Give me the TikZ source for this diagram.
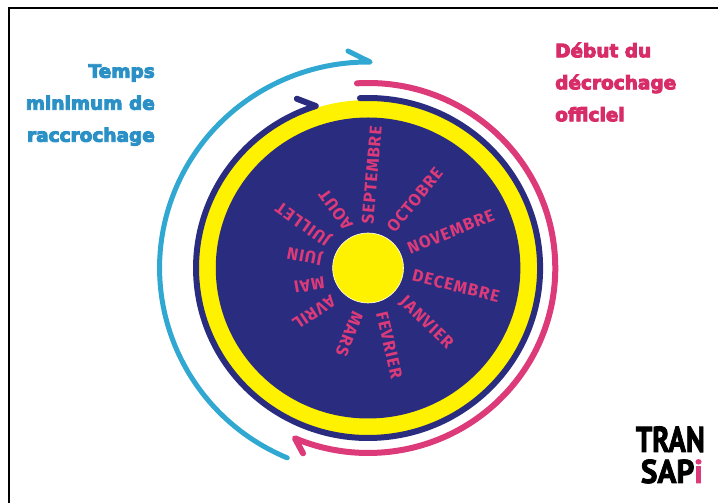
\documentclass[tikz,border=0pt]{standalone}
\usepackage{fontspec}
\newfontfamily\monthfont{Fira Sans}[LetterSpace=6]
\newfontfamily\titlefont{DejaVu Sans}[BoldFeatures={FakeBold=5}]
\newfontfamily\logofont{PT Sans}[BoldFeatures={FakeBold=2.5}]
\definecolor{navyc}{HTML}{2A2D7F}
\definecolor{yellowc}{HTML}{FFF200}
\definecolor{pinkc}{HTML}{DC3A78}
\definecolor{cyanc}{HTML}{30A8D2}
\definecolor{cyantext}{HTML}{2A90C6}
\definecolor{pinktext}{HTML}{D82C68}
\tikzset{
  month/.style={text=pinkc,inner sep=0pt,font=\monthfont\fontsize{17}{17}\selectfont\bfseries},
  title/.style={inner sep=0pt,align=left,font=\titlefont\fontsize{18.5}{32}\selectfont\bfseries},
  ringarc/.style={line cap=round,line join=round},
  logo/.style={inner sep=0pt,anchor=base east,transform shape},
}
\begin{document}
\begin{tikzpicture}[x=1pt,y=1pt]
\useasboundingbox (0,0) rectangle (718,503);
\fill[white] (0,0) rectangle (718,503);
\draw[black,line width=2pt] (9,0) -- (9,495) -- (718,495);
\coordinate (c) at (368,235);
\begin{scope}[xscale=1.012]
\fill[yellowc] (c) circle[radius=168pt];
\fill[navyc] (c) circle[radius=150.5pt];
\filldraw[yellowc,draw=white,line width=.6pt] (c) circle[radius=35pt];
\draw[ringarc,navyc,line width=6pt] (c) ++(92.7:170pt) arc[start angle=92.7,end angle=-252.3,radius=170pt] -- ++(-18.7,7.3);
\draw[ringarc,pinkc,line width=6pt] (c) ++(93.4:185pt) arc[start angle=93.4,end angle=-113,radius=185pt] -- ++(8,-15);
\draw[ringarc,cyanc,line width=5pt] (c) ++(247.2:206pt) arc[start angle=247.2,end angle=89.4,radius=206pt] -- ++(-22,11);
\end{scope}
\node[month,rotate=85] (sep) at (371.7,328) {SEPTEMBRE};
\node[month,rotate=51] (oct) at (414.7,303) {OCTOBRE};
\node[month,rotate=22] (nov) at (450.7,271.3) {NOVEMBRE};
\node[month,rotate=-14] (dec) at (456,217) {DECEMBRE};
\node[month,rotate=-44] (jan) at (426,180) {JANVIER};
\node[month,rotate=-77] (fev) at (389.3,158) {FEVRIER};
\node[month,rotate=-112] (mar) at (349.3,169) {MARS};
\node[month,rotate=-146] (avr) at (314,190.7) {AVRIL};
\node[month,rotate=-170] (mai) at (309.3,218) {MAI};
\node[month,rotate=169] (jun) at (305,248) {JUIN};
\node[month,rotate=144.6] (jul) at (304,279.7) {JUILLET};
\node[month,rotate=126] (aou) at (335.7,293) {AOUT};
\node[title,text=cyantext,align=right,anchor=east] (temps) at (155,398) {Temps\\minimum de\\raccrochage};
\node[title,text=pinktext,anchor=west] (debut) at (555,421) {Début du\\décrochage\\officiel};
\node[logo,xscale=.8,font=\logofont\bfseries\fontsize{36}{36}\selectfont] (tran) at (705,51) {TRAN};
\node[logo,xscale=.95,font=\logofont\bfseries\fontsize{33}{33}\selectfont] (sap) at (703,20) {SAP\textcolor{pinkc}{i}};
\end{tikzpicture}
\end{document}
